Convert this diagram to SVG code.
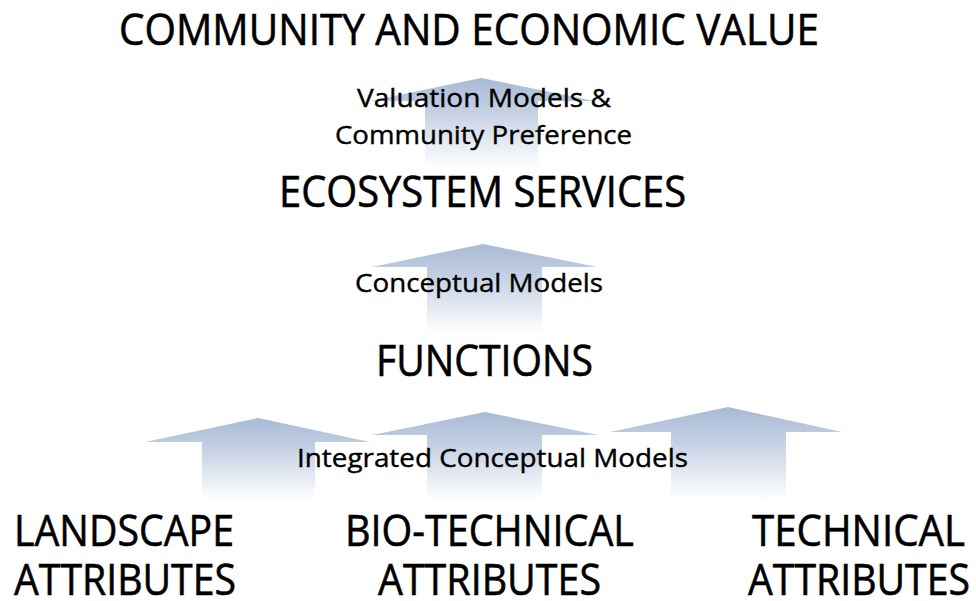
<svg xmlns="http://www.w3.org/2000/svg" width="976" height="601" viewBox="0 0 976 601">
  <defs>
    <linearGradient id="g" x1="0" y1="0" x2="0" y2="1">
      <stop offset="0" stop-color="#a8bad5"/>
      <stop offset="0.35" stop-color="#c2cfe3"/>
      <stop offset="1" stop-color="#ffffff"/>
    </linearGradient>
    <style>
      .arrow { fill: url(#g); stroke: none; }
      .big { font-family: "Open Sans", "Liberation Sans", sans-serif; font-size: 43px; fill: #000; stroke: #000; stroke-width: 0.6px; }
      .small { font-family: "Open Sans", "Liberation Sans", sans-serif; font-size: 26px; fill: #000; stroke: #000; stroke-width: 0.4px; }
    </style>
  </defs>
  <rect width="976" height="601" fill="#ffffff"/>
  <g id="connectors">
    <path class="arrow" d="M481,78 L595,101 L538,101 L538,168 L425,168 L425,101 L370,101 Z"/>
    <path class="arrow" d="M483,244 L597,267 L542,267 L542,333 L427,333 L427,267 L372,267 Z"/>
    <path class="arrow" d="M258,418 L370,442 L315,442 L315,500 L202,500 L202,442 L145,442 Z"/>
    <path class="arrow" d="M485,412 L598,435 L542,435 L542,500 L427,500 L427,435 L372,435 Z"/>
    <path class="arrow" d="M728,407 L842,432 L786,432 L786,500 L671,500 L671,432 L610,432 Z"/>
  </g>
  <g id="value">
    <text class="big" x="119" y="45" textLength="700" lengthAdjust="spacingAndGlyphs">COMMUNITY AND ECONOMIC VALUE</text>
  </g>
  <g id="valuation-label">
    <text class="small" x="357" y="107" textLength="254" lengthAdjust="spacingAndGlyphs">Valuation Models &amp;</text>
    <text class="small" x="335" y="144" textLength="297" lengthAdjust="spacingAndGlyphs">Community Preference</text>
  </g>
  <g id="ecosystem">
    <text class="big" x="279" y="207" textLength="407" lengthAdjust="spacingAndGlyphs">ECOSYSTEM SERVICES</text>
  </g>
  <g id="conceptual-label">
    <text class="small" x="355" y="292" textLength="248" lengthAdjust="spacingAndGlyphs">Conceptual Models</text>
  </g>
  <g id="functions">
    <text class="big" x="376" y="376" textLength="217" lengthAdjust="spacingAndGlyphs">FUNCTIONS</text>
  </g>
  <g id="integrated-label">
    <text class="small" x="297" y="467" textLength="391" lengthAdjust="spacingAndGlyphs">Integrated Conceptual Models</text>
  </g>
  <g id="landscape">
    <text class="big" x="14" y="546" textLength="220" lengthAdjust="spacingAndGlyphs">LANDSCAPE</text>
    <text class="big" x="14" y="595" textLength="222" lengthAdjust="spacingAndGlyphs">ATTRIBUTES</text>
  </g>
  <g id="bio-technical">
    <text class="big" x="345" y="546" textLength="289" lengthAdjust="spacingAndGlyphs">BIO-TECHNICAL</text>
    <text class="big" x="378" y="595" textLength="223" lengthAdjust="spacingAndGlyphs">ATTRIBUTES</text>
  </g>
  <g id="technical">
    <text class="big" x="752" y="546" textLength="213" lengthAdjust="spacingAndGlyphs">TECHNICAL</text>
    <text class="big" x="748" y="595" textLength="222" lengthAdjust="spacingAndGlyphs">ATTRIBUTES</text>
  </g>
</svg>
